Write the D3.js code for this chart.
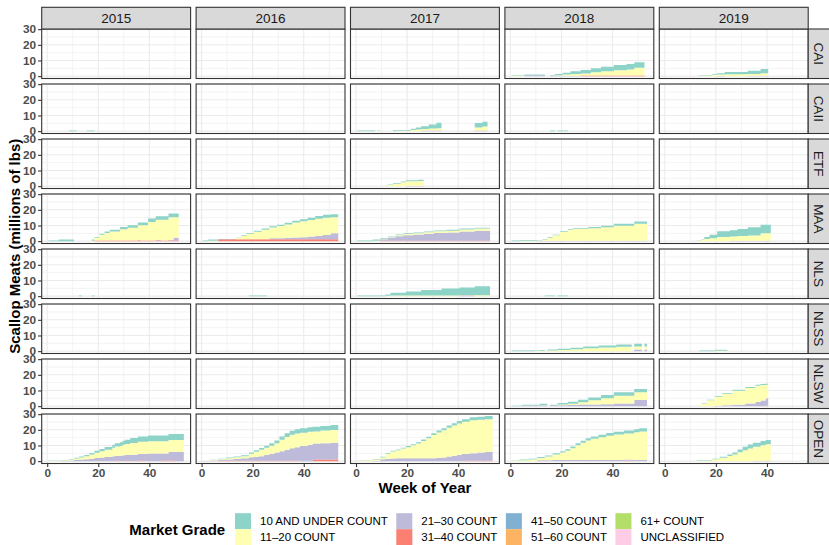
<!DOCTYPE html>
<html>
<head>
<meta charset="utf-8">
<script src="https://cdn.jsdelivr.net/npm/d3@7"></script>
<style>
    body { margin: 0; background: #fff; }
    text { font-family: "Liberation Sans", Arial, sans-serif; }
</style>
</head>
<body>
<script>
// facets
const regions = ['CAI', 'CAII', 'ETF', 'MAA', 'NLS', 'NLSS', 'NLSW', 'OPEN'];
const years = [2015, 2016, 2017, 2018, 2019];

// market grades, first one is stacked on top
const grades = [
    '10 AND UNDER COUNT', '11–20 COUNT', '21–30 COUNT', '31–40 COUNT',
    '41–50 COUNT', '51–60 COUNT', '61+ COUNT', 'UNCLASSIFIED'
];

const weekTicks = [0, 20, 40];
const valueTicks = [0, 10, 20, 30];

// cumulative landings (millions of lbs), one row per run of weeks:
// [fromWeek, toWeek, 10&under, 11-20, 21-30, 31-40, 41-50]
const CAI_2018 = [
    [1, 5, 0.2, 0.3], [6, 13, 0.5, 0, 0.5], [16, 17, 0.3, 0, 0.3],
    [18, 20, 0.8, 0.3, 0.3], [21, 23, 1.2, 0.7, 0.3], [24, 27, 1.7, 1.1, 0.3],
    [28, 31, 2.2, 1.3, 0, 0.4], [32, 35, 2.5, 2.1, 0, 0.4], [36, 40, 2.9, 2.7, 0, 0.4],
    [41, 45, 3.4, 3.3, 0, 0.4], [46, 48, 3.6, 3.8, 0, 0.4], [49, 52, 3.6, 4.9, 0, 0.4]
];
const CAI_2019 = [
    [14, 18, 0.2, 0.3], [19, 20, 0.5, 0.7], [21, 23, 0.8, 0.7, 0.3],
    [24, 32, 1.5, 1.2], [33, 37, 2.0, 1.1, 0.3], [38, 40, 2.7, 1.5, 0.3]
];
const CAII_2015 = [[9, 11, 0.4], [16, 18, 0.4]];
const CAII_2017 = [
    [1, 7, 0.4], [9, 9, 0.3, 0.4], [15, 15, 0.5], [16, 21, 0.4, 0.3],
    [22, 23, 0.8, 0.7], [24, 25, 1.3, 1.1], [26, 28, 1.8, 1.0, 0.4],
    [29, 31, 2.6, 1.3, 0.4], [32, 33, 3.6, 1.4, 0.4],
    [47, 49, 2.8, 2.0, 0.4], [50, 51, 3.0, 2.6, 0.4]
];
const CAII_2018 = [[16, 17, 0.4], [19, 22, 0.4]];
const ETF_2017 = [
    [12, 12, 0.1, 0.3], [13, 14, 0.3, 0.8], [15, 17, 0.4, 1.6],
    [18, 19, 0.5, 2.5], [20, 24, 0.6, 2.8, 0.3], [25, 26, 0.8, 3.0, 0.3]
];
const MAA_2015 = [
    [1, 4, 0.4], [5, 10, 1.1], [18, 18, 0.8, 0.2],
    [19, 20, 0.5, 1.7, 0, 0.4], [21, 22, 0.7, 3.7, 0, 0.4], [23, 24, 0.9, 4.8, 0, 0.4],
    [25, 28, 1.1, 5.7, 0, 0.4], [29, 31, 1.4, 7.2, 0, 0.4], [32, 35, 1.6, 8.2, 0, 0.4],
    [36, 36, 1.8, 9.2, 0.5, 0.4], [37, 39, 1.8, 9.7, 0, 0.4], [40, 42, 2.1, 11.9, 0, 0.4],
    [43, 44, 2.2, 12.8, 0.5, 0.4], [45, 47, 2.2, 13.3, 0, 0.4], [48, 49, 2.4, 14.3, 0.5, 0.4],
    [50, 51, 2.4, 13.0, 1.8, 0.4]
];
const MAA_2016 = [
    [1, 2, 0.4], [3, 6, 0.8, 0.3], [7, 13, 0.1, 0, 0, 1.2],
    [14, 15, 0.3, 0.9, 0, 1.2], [16, 17, 0.4, 2.1, 0, 1.2], [18, 20, 0.5, 3.3, 0, 1.2],
    [21, 23, 0.6, 4.8, 0, 1.2], [24, 26, 0.7, 6.1, 0, 1.2], [27, 29, 0.8, 6.8, 0.7, 1.2],
    [30, 32, 0.9, 7.7, 0.7, 1.2], [33, 35, 1.0, 8.6, 0.9, 1.2], [36, 38, 1.1, 9.6, 1.1, 1.2],
    [39, 41, 1.3, 10.2, 1.3, 1.2], [42, 44, 1.5, 10.5, 1.8, 1.2], [45, 47, 1.7, 10.8, 2.3, 1.2],
    [48, 50, 1.9, 10.9, 2.8, 1.2], [51, 53, 2.0, 10.2, 3.8, 1.2]
];
const MAA_2017 = [
    [1, 6, 0.4], [7, 9, 0.8, 0.3], [10, 12, 0.5, 0.3, 0.9, 0.3],
    [13, 15, 0.5, 0.4, 1.8, 0.3], [16, 18, 0.5, 0.6, 2.8, 0.3], [19, 22, 0.5, 0.8, 3.4, 0.3],
    [23, 26, 0.5, 0.9, 3.9, 0.3], [27, 30, 0.5, 1.0, 4.4, 0.3], [31, 35, 0.5, 1.1, 4.9, 0.3],
    [36, 40, 0.5, 1.2, 5.2, 0.3], [41, 46, 0.6, 1.3, 5.8, 0.3], [47, 52, 0.6, 1.4, 6.3, 0.3]
];
const MAA_2018 = [
    [1, 3, 0.4], [4, 10, 0.5, 0.2], [11, 12, 0.1, 0.1, 0.3],
    [13, 14, 0.3, 0.7, 0.3], [15, 16, 0.4, 1.9, 0.3], [17, 19, 0.4, 3.4, 0.3],
    [20, 22, 0.5, 5.5, 0.3], [23, 24, 0.5, 7.0, 0.3], [25, 30, 0.6, 7.4, 0.3],
    [31, 35, 0.8, 7.9, 0.3], [36, 40, 1.0, 8.5, 0.3], [41, 48, 1.2, 9.6, 0.3],
    [49, 53, 1.5, 10.8, 0.3]
];
const MAA_2019 = [
    [13, 14, 0.2, 0.2], [15, 15, 0.4, 0.7], [16, 17, 1.2, 1.4], [18, 20, 2.2, 1.9],
    [21, 25, 3.7, 2.6], [26, 28, 4.0, 2.6, 0.3], [29, 32, 4.5, 3.0, 0.3],
    [33, 37, 5.3, 3.3, 0.3], [38, 41, 5.3, 4.8, 0.3]
];
const NLS_2015 = [[13, 13, 0.4], [18, 18, 0.4]];
const NLS_2016 = [[19, 25, 0.4]];
const NLS_2017 = [
    [1, 11, 0.4], [12, 13, 0.8, 0.3], [14, 19, 1.8, 0.4], [20, 25, 2.6, 0.4],
    [26, 33, 3.6, 0.4], [34, 40, 4.5, 0.4], [41, 46, 4.8, 0.2, 0.5], [47, 52, 5.8, 0.6]
];
const NLS_2018 = [[14, 17, 0.4], [19, 22, 0.4]];
const NLSS_2018 = [
    [1, 9, 0.4], [10, 11, 0.4, 0.2], [12, 13, 0.5, 0.3], [15, 18, 0.6, 0.4],
    [19, 23, 0.9, 0.7], [24, 28, 1.0, 1.2], [29, 34, 1.2, 1.8], [35, 41, 1.3, 2.3],
    [42, 47, 1.5, 2.8], [49, 51, 1.8, 1.9, 1.0], [53, 53, 1.8, 1.9, 1.0]
];
const NLSS_2019 = [[14, 19, 0.4], [20, 24, 0.6, 0.3]];
const NLSW_2018 = [
    [1, 4, 0.3], [5, 11, 0.5, 0, 0.4], [12, 14, 1.0, 0.2, 0.4], [16, 18, 0.3, 0, 0.6],
    [19, 22, 1.0, 0.4, 0.6], [23, 26, 1.3, 0.8, 0.7], [27, 30, 1.6, 1.5, 1.0],
    [31, 35, 1.8, 2.8, 1.0], [36, 40, 2.0, 3.9, 1.2], [41, 48, 2.1, 5.0, 1.7],
    [49, 53, 2.1, 4.9, 3.9]
];
const NLSW_2019 = [
    [13, 14, 0.1, 0.2], [15, 16, 0.3, 1.7], [17, 19, 0.4, 3.7], [20, 22, 0.5, 5.5, 0.3],
    [23, 26, 0.5, 7.4, 0.5], [27, 31, 0.6, 9.0, 0.9], [32, 35, 0.6, 9.9, 1.7],
    [36, 37, 0.6, 10.4, 2.7], [38, 39, 0.6, 9.9, 3.6], [40, 40, 0.6, 8.7, 4.6, 0.4]
];
const OPEN_2015 = [
    [1, 5, 0.2, 0.1], [6, 8, 0.3, 0.3, 0.2], [9, 10, 0.4, 0.6, 0.4], [11, 12, 0.5, 1.0, 0.7],
    [13, 14, 0.6, 1.4, 1.0], [15, 16, 0.8, 2.0, 1.2], [17, 18, 1.0, 2.6, 1.6],
    [19, 20, 1.2, 3.4, 2.0], [21, 22, 1.4, 4.0, 2.4], [23, 25, 1.7, 4.7, 2.6],
    [26, 26, 2.0, 5.4, 3.1], [27, 28, 2.2, 5.8, 3.1, 0.4], [29, 29, 2.4, 6.3, 3.4],
    [30, 30, 2.6, 6.6, 3.8], [31, 32, 2.8, 7.0, 3.5, 0.4], [33, 35, 3.1, 7.5, 4.1],
    [36, 38, 3.4, 7.9, 4.1, 0.4], [39, 39, 3.4, 7.9, 4.5], [40, 44, 3.6, 7.8, 4.9],
    [45, 47, 3.6, 7.8, 4.5, 0.4], [48, 50, 3.8, 7.7, 5.4, 0.4], [51, 53, 3.8, 7.7, 5.8]
];
const OPEN_2016 = [
    [1, 3, 0.1, 0.1, 0.1], [4, 6, 0.2, 0.3, 0.4], [7, 9, 0.3, 0.5, 0.4, 0.3],
    [10, 12, 0.4, 0.8, 0.8, 0.3], [13, 15, 0.5, 1.1, 1.1, 0.3], [16, 18, 0.6, 1.4, 1.5, 0.3],
    [19, 20, 0.8, 2.2, 2.2, 0.3], [21, 22, 1.0, 3.2, 2.5, 0.3], [23, 24, 1.2, 4.0, 2.9, 0.3],
    [25, 26, 1.4, 4.6, 3.6, 0.3], [27, 28, 1.6, 5.2, 4.4, 0.3], [29, 30, 1.8, 5.9, 5.2, 0.3],
    [31, 32, 2.1, 7.3, 6.1, 0.3], [33, 34, 2.4, 8.2, 6.9, 0.3], [35, 36, 2.6, 8.6, 7.9, 0.3],
    [37, 38, 2.7, 8.8, 8.6, 0.3], [39, 41, 2.8, 8.5, 9.4, 0, 0.3], [42, 43, 2.9, 8.3, 10.1, 0, 0.3],
    [44, 46, 3.0, 7.8, 10.2, 1.0], [47, 50, 3.0, 8.0, 10.5, 1.0], [51, 53, 3.1, 8.1, 10.8, 1.0]
];
const OPEN_2017 = [
    [1, 3, 0.2, 0.2], [4, 6, 0.3, 0.5], [7, 9, 0.3, 0.8, 0.3], [10, 11, 0.4, 1.2, 1.2],
    [12, 13, 0.5, 3.0, 1.5], [14, 15, 0.5, 4.4, 1.7], [16, 17, 0.6, 5.1, 1.8],
    [18, 19, 0.6, 6.2, 1.8], [20, 21, 0.7, 7.1, 1.8], [22, 23, 0.7, 8.3, 1.8],
    [24, 25, 0.8, 9.4, 1.8], [26, 27, 0.9, 11.1, 1.8], [28, 29, 1.0, 12.8, 1.8],
    [30, 31, 1.1, 14.8, 1.9], [32, 33, 1.2, 16.1, 2.2], [34, 35, 1.3, 17.3, 2.4],
    [36, 37, 1.4, 18.4, 3.0], [38, 39, 1.5, 19.2, 3.5], [40, 41, 1.6, 20.0, 4.0],
    [42, 44, 1.7, 20.6, 4.2, 0.3], [45, 47, 1.9, 21.1, 4.7, 0.3], [48, 50, 2.0, 20.8, 5.3, 0.3],
    [51, 53, 2.1, 20.8, 5.7, 0.3]
];
const OPEN_2018 = [
    [1, 3, 0.2, 0.2], [4, 7, 0.4, 0.6], [8, 10, 0.5, 1.1], [11, 13, 0.6, 1.5, 0.5],
    [14, 16, 0.7, 2.3, 0.6], [17, 19, 0.8, 3.5, 0.7], [20, 21, 0.9, 4.8, 0.7],
    [22, 23, 1.0, 5.9, 0.7], [24, 25, 1.1, 7.6, 0.7], [26, 27, 1.2, 9.5, 0.7],
    [28, 29, 1.3, 11.0, 0.7], [30, 31, 1.4, 12.5, 0.7], [32, 34, 1.5, 13.6, 0.7],
    [35, 37, 1.6, 14.6, 0.7], [38, 40, 1.7, 15.5, 0.7], [41, 44, 1.8, 16.3, 0.7],
    [45, 48, 1.9, 16.6, 0.7, 0.3], [49, 50, 2.0, 17.7, 0.7], [51, 53, 2.0, 18.2, 0.8]
];
const OPEN_2019 = [
    [13, 18, 0.2, 0.3], [19, 21, 0.4, 1.2], [22, 24, 0.6, 2.2], [25, 26, 0.9, 3.3],
    [27, 28, 1.3, 4.3], [29, 30, 1.8, 5.7], [31, 32, 2.2, 7.0], [33, 34, 2.5, 8.1],
    [35, 37, 2.6, 8.9, 0.3], [38, 39, 2.7, 9.9, 0.3], [40, 41, 2.7, 10.5, 0.3]
];

// which facet each table goes to
const panels = [
    ['CAI', 2018, CAI_2018], ['CAI', 2019, CAI_2019],
    ['CAII', 2015, CAII_2015], ['CAII', 2017, CAII_2017], ['CAII', 2018, CAII_2018],
    ['ETF', 2017, ETF_2017],
    ['MAA', 2015, MAA_2015], ['MAA', 2016, MAA_2016], ['MAA', 2017, MAA_2017],
    ['MAA', 2018, MAA_2018], ['MAA', 2019, MAA_2019],
    ['NLS', 2015, NLS_2015], ['NLS', 2016, NLS_2016], ['NLS', 2017, NLS_2017], ['NLS', 2018, NLS_2018],
    ['NLSS', 2018, NLSS_2018], ['NLSS', 2019, NLSS_2019],
    ['NLSW', 2018, NLSW_2018], ['NLSW', 2019, NLSW_2019],
    ['OPEN', 2015, OPEN_2015], ['OPEN', 2016, OPEN_2016], ['OPEN', 2017, OPEN_2017],
    ['OPEN', 2018, OPEN_2018], ['OPEN', 2019, OPEN_2019]
];

// svg size
const width = 829;
const height = 545;

// facet layout
const gridLeft = 41.7;
const gridTop = 29;
const panelW = 148.9;
const panelH = 49.5;
const gap = 5.5;
const stripH = 21.7;

const colX = c => gridLeft + c * (panelW + gap);
const rowY = r => gridTop + r * (panelH + gap);
const gridRight = colX(years.length - 1) + panelW;
const gridBottom = rowY(regions.length - 1) + panelH;

const svg = d3.select('body')
    .append('svg')
    .attr('width', width)
    .attr('height', height);

// scales
const xScale = d3.scaleLinear()
    .domain([-2.15, 56.15])
    .range([0, panelW]);

const yScale = d3.scaleLinear()
    .domain([-1.5, 30.1])
    .range([panelH, 0]);

const color = d3.scaleOrdinal()
    .domain(grades)
    .range(d3.schemeSet3);

// bottom of the stack is the last grade
const stack = d3.stack().keys(grades.slice().reverse());

function weekRows(segs) {
    const rows = [];
    segs.forEach(s => {
        for (let w = s[0]; w <= s[1]; w++) {
            const row = { week: w };
            grades.forEach((g, i) => { row[g] = s[2 + i] || 0; });
            rows.push(row);
        }
    });
    return rows;
}

// panels: background + grid
regions.forEach((reg, r) => {
    years.forEach((yr, c) => {
        const g = svg.append('g')
            .attr('class', 'panel-' + reg + '-' + yr)
            .attr('transform', 'translate(' + colX(c) + ', ' + rowY(r) + ')');

        g.append('rect')
            .attr('width', panelW)
            .attr('height', panelH)
            .attr('fill', '#fff');

        g.selectAll('.vmin').data([10, 30, 50]).enter().append('line')
            .attr('x1', d => xScale(d)).attr('x2', d => xScale(d))
            .attr('y1', 0).attr('y2', panelH)
            .attr('stroke', '#ebebeb').attr('stroke-width', 0.6);
        g.selectAll('.hmin').data([5, 15, 25]).enter().append('line')
            .attr('x1', 0).attr('x2', panelW)
            .attr('y1', d => yScale(d)).attr('y2', d => yScale(d))
            .attr('stroke', '#ebebeb').attr('stroke-width', 0.6);
        g.selectAll('.vmaj').data(weekTicks).enter().append('line')
            .attr('x1', d => xScale(d)).attr('x2', d => xScale(d))
            .attr('y1', 0).attr('y2', panelH)
            .attr('stroke', '#ebebeb').attr('stroke-width', 1.1);
        g.selectAll('.hmaj').data(valueTicks).enter().append('line')
            .attr('x1', 0).attr('x2', panelW)
            .attr('y1', d => yScale(d)).attr('y2', d => yScale(d))
            .attr('stroke', '#ebebeb').attr('stroke-width', 1.1);
    });
});

// stacked weekly bars, one path per grade so neighbouring weeks don't show seams
panels.forEach(([reg, yr, segs]) => {
    const layers = stack(weekRows(segs));
    svg.select('.panel-' + reg + '-' + yr)
        .selectAll('path.layer')
        .data(layers)
        .enter()
        .append('path')
        .attr('class', 'layer')
        .attr('fill', d => color(d.key))
        .attr('d', layer => layer
            .filter(p => p[1] - p[0] > 0)
            .map(p => {
                const x0 = xScale(p.data.week - 0.5);
                const x1 = xScale(p.data.week + 0.5);
                return 'M' + x0 + ',' + yScale(p[1]) + 'H' + x1 + 'V' + yScale(p[0]) + 'H' + x0 + 'Z';
            })
            .join(''));
});

// panel borders
regions.forEach((reg, r) => {
    years.forEach((yr, c) => {
        svg.append('rect')
            .attr('x', colX(c)).attr('y', rowY(r))
            .attr('width', panelW).attr('height', panelH)
            .attr('fill', 'none')
            .attr('stroke', '#333').attr('stroke-width', 1.1);
    });
});

// top strips
years.forEach((yr, c) => {
    svg.append('rect')
        .attr('x', colX(c)).attr('y', gridTop - stripH)
        .attr('width', panelW).attr('height', stripH)
        .attr('fill', '#d9d9d9').attr('stroke', '#333').attr('stroke-width', 1.1);
    svg.append('text')
        .attr('x', colX(c) + panelW / 2)
        .attr('y', gridTop - stripH / 2)
        .attr('dy', '0.36em')
        .attr('text-anchor', 'middle')
        .attr('font-size', 13.5)
        .attr('fill', '#1a1a1a')
        .text(yr);
});

// right strips
regions.forEach((reg, r) => {
    svg.append('rect')
        .attr('x', gridRight).attr('y', rowY(r))
        .attr('width', stripH).attr('height', panelH)
        .attr('fill', '#d9d9d9').attr('stroke', '#333').attr('stroke-width', 1.1);
    svg.append('text')
        .attr('transform', 'translate(' + (gridRight + stripH / 2) + ', ' + (rowY(r) + panelH / 2) + ') rotate(90)')
        .attr('dy', '0.36em')
        .attr('text-anchor', 'middle')
        .attr('font-size', 13.5)
        .attr('fill', '#1a1a1a')
        .text(reg);
});

// axes
function styleAxis(sel) {
    sel.select('.domain').remove();
    sel.selectAll('.tick line').attr('stroke', '#333').attr('stroke-width', 1.1);
    sel.selectAll('.tick text')
        .attr('fill', '#4d4d4d')
        .attr('font-weight', 'bold')
        .attr('font-size', 11.8)
        .attr('font-family', '"Liberation Sans", Arial, sans-serif');
}

const yAxis = d3.axisLeft(yScale)
    .tickValues(valueTicks)
    .tickSize(3.6)
    .tickPadding(2);

regions.forEach((reg, r) => {
    svg.append('g')
        .attr('transform', 'translate(' + gridLeft + ', ' + rowY(r) + ')')
        .call(yAxis)
        .call(styleAxis);
});

const xAxis = d3.axisBottom(xScale)
    .tickValues(weekTicks)
    .tickSize(3.6)
    .tickPadding(2);

years.forEach((yr, c) => {
    svg.append('g')
        .attr('transform', 'translate(' + colX(c) + ', ' + gridBottom + ')')
        .call(xAxis)
        .call(styleAxis);
});

// axis titles
svg.append('text')
    .attr('x', (gridLeft + gridRight) / 2)
    .attr('y', 492.5)
    .attr('text-anchor', 'middle')
    .attr('font-size', 15)
    .attr('font-weight', 'bold')
    .text('Week of Year');

svg.append('text')
    .attr('transform', 'translate(19.5, ' + ((gridTop + gridBottom) / 2) + ') rotate(-90)')
    .attr('text-anchor', 'middle')
    .attr('font-size', 15)
    .attr('font-weight', 'bold')
    .text('Scallop Meats (millions of lbs)');

// legend, two rows filled by column
const legend = svg.append('g');
legend.append('text')
    .attr('x', 129.3)
    .attr('y', 535.3)
    .attr('font-size', 15)
    .attr('font-weight', 'bold')
    .text('Market Grade');

const keySize = 16;
const keyTop = 513.2;
let keyX = 235;
for (let col = 0; col < grades.length / 2; col++) {
    let colW = 0;
    for (let row = 0; row < 2; row++) {
        const grade = grades[col * 2 + row];
        legend.append('rect')
            .attr('x', keyX).attr('y', keyTop + row * keySize)
            .attr('width', keySize).attr('height', keySize)
            .attr('fill', color(grade));
        const t = legend.append('text')
            .attr('x', keyX + keySize + 9)
            .attr('y', keyTop + row * keySize + keySize / 2)
            .attr('dy', '0.36em')
            .attr('font-size', 11.5)
            .text(grade);
        colW = Math.max(colW, t.node().getComputedTextLength());
    }
    keyX += keySize + 9 + colW + 8.5;
}
</script>
</body>
</html>
